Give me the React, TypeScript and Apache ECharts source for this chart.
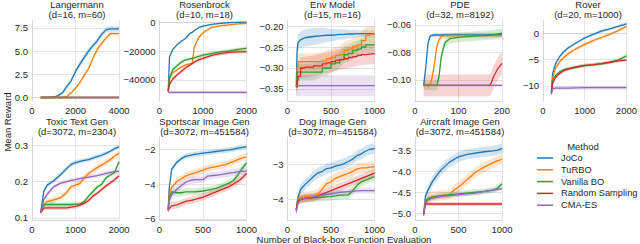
import React, { useEffect, useRef } from 'react';
import * as echarts from 'echarts';

const METHODS = ['JoCo', 'TuRBO', 'Vanilla BO', 'Random Sampling', 'CMA-ES'];
const COLORS = ['#1f77b4', '#ff7f0e', '#2ca02c', '#d62728', '#9467bd'];

// ---------- Langermann ----------
const langX = [400, 600, 1000, 1200, 1400, 1600, 1800, 2000, 2200, 2400, 2600, 2800, 3000, 3200, 3400, 3600, 3800, 4000];
const langJoCo = [0, 0, 0.05, 0.2, 0.5, 1.2, 1.8, 2.8, 3.6, 4.3, 5.0, 5.6, 6.1, 6.8, 7.3, 7.4, 7.4, 7.4];
const langTuRBO = [0, 0, 0, 0, 0, 0.1, 0.5, 1.0, 1.6, 2.4, 3.1, 4.2, 5.2, 5.8, 6.4, 6.9, 6.9, 6.9];
const langVBO = [0, 0, 0, 0, 0, 0, 0, 0, 0, 0, 0, 0, 0, 0, 0, 0, 0, 0];
const langRS = [0, 0, 0, 0, 0, 0, 0, 0, 0, 0, 0, 0, 0, 0, 0, 0, 0, 0];
const langCMA = [0, 0, 0, 0, 0, 0, 0, 0, 0, 0, 0, 0, 0, 0, 0, 0, 0, 0];
const langJoCoSd = [0, 0, 0.02, 0.1, 0.15, 0.25, 0.3, 0.3, 0.35, 0.35, 0.35, 0.3, 0.3, 0.3, 0.3, 0.3, 0.3, 0.3];
const langTuRBOSd = [0, 0, 0, 0, 0, 0.05, 0.1, 0.15, 0.2, 0.25, 0.25, 0.25, 0.25, 0.25, 0.2, 0.2, 0.2, 0.2];
const langYTicks = [0, 2.5, 5, 7.5];

// ---------- Rosenbrock ----------
const rosX = [200, 230, 300, 400, 500, 600, 700, 750, 800, 900, 1000, 1200, 1400, 1600, 1800, 2000];
const rosJoCo = [-48000, -24000, -19000, -15500, -13000, -11000, -7500, -6800, -5500, -3500, -2400, -1200, -500, 0, 200, 300];
const rosTuRBO = [-48000, -39000, -35000, -33000, -31000, -29500, -28800, -28400, -17000, -10500, -7000, -3200, -2200, -1500, -800, -400];
const rosVBO = [-48000, -39000, -33000, -30000, -27500, -26000, -25300, -25000, -24500, -23500, -22600, -21400, -20400, -19600, -18700, -17900];
const rosRS = [-48000, -43000, -39500, -36500, -34000, -31500, -29500, -28500, -27500, -26000, -24900, -22800, -21600, -20700, -20300, -20200];
const rosCMA = [-48600, -48600, -48600, -48600, -48600, -48600, -48600, -48600, -48600, -48600, -48600, -48600, -48600, -48600, -48600, -48600];
const rosSd = [600, 1000, 1200, 1300, 1200];
const rosYTicks = [-40000, -20000, 0];

// ---------- Env Model ----------
const envX = [100, 110, 120, 150, 200, 300, 400, 450, 500, 550, 600, 650, 700, 750, 800, 850, 900, 950, 1000];
const envJoCo = [-0.345, -0.26, -0.24, -0.233, -0.228, -0.225, -0.223, -0.222, -0.222, -0.221, -0.22, -0.22, -0.219, -0.219, -0.218, -0.218, -0.218, -0.218, -0.218];
const envTuRBO = [-0.345, -0.3, -0.285, -0.285, -0.285, -0.284, -0.283, -0.278, -0.275, -0.27, -0.268, -0.258, -0.255, -0.248, -0.245, -0.235, -0.222, -0.22, -0.22];
const envVBO = [-0.345, -0.31, -0.31, -0.31, -0.31, -0.31, -0.3, -0.3, -0.29, -0.288, -0.28, -0.268, -0.265, -0.258, -0.255, -0.25, -0.245, -0.245, -0.245];
const envRS = [-0.345, -0.33, -0.32, -0.3, -0.298, -0.295, -0.29, -0.288, -0.285, -0.282, -0.28, -0.278, -0.275, -0.273, -0.27, -0.268, -0.267, -0.266, -0.266];
const envCMA = [-0.342, -0.342, -0.342, -0.342, -0.342, -0.342, -0.342, -0.342, -0.342, -0.342, -0.342, -0.342, -0.342, -0.342, -0.342, -0.342, -0.342, -0.342, -0.342];
const envJoCoSd = [0.02, 0.02, 0.02, 0.02, 0.02, 0.02, 0.018, 0.016, 0.015, 0.014, 0.012, 0.012, 0.01, 0.01, 0.008, 0.008, 0.008, 0.008, 0.008];
const envSd = [0.02, 0.02, 0.025, 0.025];
const envYTicks = [-0.35, -0.3, -0.25, -0.2];

// ---------- PDE ----------
const pdeX = [20, 25, 30, 35, 40, 45, 50, 55, 60, 65, 70, 80, 100, 120, 140, 160, 170, 175, 180, 190, 200];
const pdeJoCo = [-0.104, -0.09, -0.073, -0.068, -0.0675, -0.0673, -0.0673, -0.0673, -0.0673, -0.0673, -0.0673, -0.0673, -0.0673, -0.0673, -0.0673, -0.0673, -0.0673, -0.0673, -0.0673, -0.0673, -0.0673];
const pdeTuRBO = [-0.104, -0.104, -0.104, -0.104, -0.097, -0.088, -0.076, -0.071, -0.0685, -0.068, -0.0677, -0.0677, -0.0677, -0.0677, -0.0677, -0.0677, -0.0677, -0.0677, -0.0677, -0.0677, -0.0677];
const pdeVBO = [-0.104, -0.104, -0.104, -0.104, -0.104, -0.104, -0.104, -0.098, -0.084, -0.077, -0.0725, -0.07, -0.069, -0.0685, -0.068, -0.0677, -0.0675, -0.0673, -0.067, -0.0665, -0.066];
const pdeRS = [-0.104, -0.104, -0.104, -0.104, -0.104, -0.104, -0.104, -0.104, -0.104, -0.104, -0.104, -0.104, -0.104, -0.104, -0.104, -0.104, -0.104, -0.1025, -0.098, -0.092, -0.088];
const pdeCMA = [-0.104, -0.104, -0.104, -0.104, -0.104, -0.104, -0.104, -0.104, -0.104, -0.104, -0.104, -0.104, -0.104, -0.104, -0.104, -0.104, -0.104, -0.104, -0.104, -0.104, -0.104];
const pdeSd = [0.0015, 0.002, 0.0035, 0.008, 0.001];
const pdeYTicks = [-0.1, -0.08, -0.06];

// ---------- Rover ----------
const rovX = [200, 230, 300, 400, 500, 600, 800, 1000, 1200, 1400, 1600, 1800, 2000];
const rovJoCo = [-11.3, -7.6, -5.8, -4.4, -3.5, -2.8, -1.8, -0.9, -0.2, 0.4, 0.85, 1.3, 1.8];
const rovTuRBO = [-11.3, -8.5, -6.6, -5.4, -4.6, -3.9, -2.9, -2.1, -1.4, -0.8, -0.2, 0.5, 1.3];
const rovVBO = [-11.3, -9.0, -8.0, -7.3, -6.9, -6.7, -6.4, -6.15, -6.0, -5.8, -5.5, -5.1, -4.3];
const rovRS = [-11.3, -9.5, -8.4, -7.6, -7.1, -6.8, -6.4, -6.1, -5.95, -5.75, -5.5, -5.25, -5.1];
const rovCMA = [-11.6, -10.5, -10.4, -10.4, -10.4, -10.4, -10.35, -10.3, -10.3, -10.3, -10.3, -10.3, -10.3];
const rovSd = [0.3, 0.3, 0.35, 0.3, 0.35];
const rovYTicks = [-10, -5, 0];

// ---------- Toxic Text Gen ----------
const toxX = [200, 270, 350, 500, 650, 800, 900, 1000, 1100, 1200, 1300, 1400, 1500, 1600, 1700, 1800, 1900, 2000];
const toxJoCo = [0.115, 0.173, 0.19, 0.202, 0.218, 0.236, 0.247, 0.252, 0.255, 0.258, 0.26, 0.264, 0.268, 0.272, 0.277, 0.283, 0.29, 0.295];
const toxTuRBO = [0.12, 0.136, 0.145, 0.15, 0.155, 0.17, 0.186, 0.19, 0.195, 0.21, 0.222, 0.23, 0.238, 0.245, 0.252, 0.26, 0.27, 0.277];
const toxVBO = [0.12, 0.136, 0.137, 0.137, 0.137, 0.137, 0.137, 0.138, 0.138, 0.145, 0.16, 0.172, 0.185, 0.192, 0.21, 0.218, 0.225, 0.254];
const toxRS = [0.115, 0.127, 0.128, 0.128, 0.128, 0.128, 0.13, 0.132, 0.135, 0.14, 0.148, 0.16, 0.168, 0.178, 0.188, 0.196, 0.205, 0.215];
const toxCMA = [0.115, 0.15, 0.165, 0.186, 0.195, 0.2, 0.203, 0.205, 0.208, 0.21, 0.212, 0.214, 0.216, 0.219, 0.222, 0.225, 0.227, 0.228];
const toxSd = [0.006, 0.008, 0.006, 0.006, 0.006];
const toxYTicks = [0.1, 0.2, 0.3];

// ---------- Sportscar Image Gen ----------
const spX = [100, 110, 140, 200, 250, 300, 350, 400, 500, 550, 650, 750, 800, 850, 900, 950, 1000];
const spJoCo = [-5.5, -4.3, -3.15, -2.75, -2.55, -2.42, -2.36, -2.3, -2.23, -2.2, -2.14, -2.08, -2.05, -2.0, -1.95, -1.9, -1.88];
const spTuRBO = [-5.5, -4.6, -4.2, -3.85, -3.7, -3.55, -3.45, -3.38, -3.2, -3.1, -3.0, -2.9, -2.8, -2.72, -2.6, -2.5, -2.45];
const spVBO = [-5.5, -4.8, -4.45, -4.5, -4.5, -4.45, -4.45, -4.45, -4.4, -4.35, -4.25, -4.05, -3.95, -3.8, -3.5, -3.1, -2.8];
const spRS = [-5.5, -5.4, -5.25, -5.2, -5.1, -5.0, -4.95, -4.9, -4.75, -4.65, -4.45, -4.25, -4.15, -4.0, -3.85, -3.65, -3.4];
const spCMA = [-5.5, -5.0, -4.6, -4.3, -4.1, -3.9, -3.8, -3.75, -3.75, -3.55, -3.5, -3.42, -3.38, -3.35, -3.3, -3.28, -3.25];
const spSd = [0.15, 0.2, 0.2, 0.2, 0.2];
const spYTicks = [-6, -4, -2];

// ---------- Dog Image Gen ----------
const dogX = [100, 120, 150, 200, 300, 350, 400, 450, 500, 550, 600, 650, 700, 750, 800, 850, 900, 950, 1000];
const dogJoCo = [-4.3, -3.95, -3.72, -3.58, -3.35, -3.25, -3.2, -3.12, -3.1, -3.05, -3.02, -2.98, -2.92, -2.85, -2.75, -2.7, -2.62, -2.57, -2.55];
const dogTuRBO = [-4.3, -4.0, -3.95, -3.93, -3.9, -3.85, -3.7, -3.55, -3.5, -3.4, -3.35, -3.3, -3.26, -3.2, -3.13, -3.1, -3.1, -3.08, -3.07];
const dogVBO = [-4.3, -4.05, -4.0, -3.97, -3.95, -3.95, -3.94, -3.93, -3.92, -3.9, -3.88, -3.88, -3.87, -3.75, -3.6, -3.5, -3.45, -3.4, -3.35];
const dogRS = [-4.3, -4.05, -4.0, -3.97, -3.95, -3.9, -3.85, -3.8, -3.75, -3.7, -3.65, -3.6, -3.55, -3.5, -3.45, -3.4, -3.35, -3.3, -3.25];
const dogCMA = [-4.35, -4.1, -4.0, -3.97, -3.93, -3.9, -3.88, -3.86, -3.84, -3.82, -3.8, -3.79, -3.78, -3.77, -3.76, -3.75, -3.75, -3.75, -3.75];
const dogSd = [0.15, 0.15, 0.12, 0.12, 0.08];
const dogYTicks = [-4, -3];

// ---------- Aircraft Image Gen ----------
const airX = [100, 120, 150, 200, 250, 300, 400, 450, 500, 600, 700, 800, 900, 950, 1000];
const airJoCo = [-5.0, -4.6, -4.45, -4.25, -4.1, -3.97, -3.78, -3.72, -3.66, -3.6, -3.57, -3.54, -3.52, -3.5, -3.46];
const airTuRBO = [-5.0, -4.72, -4.65, -4.6, -4.6, -4.58, -4.55, -4.45, -4.38, -4.2, -4.02, -3.9, -3.8, -3.75, -3.72];
const airVBO = [-5.0, -4.75, -4.65, -4.62, -4.6, -4.58, -4.56, -4.55, -4.54, -4.52, -4.5, -4.48, -4.45, -4.4, -4.3];
const airRS = [-5.05, -4.78, -4.78, -4.78, -4.78, -4.78, -4.78, -4.78, -4.78, -4.78, -4.78, -4.78, -4.78, -4.78, -4.78];
const airCMA = [-5.0, -4.78, -4.68, -4.64, -4.62, -4.6, -4.58, -4.57, -4.56, -4.54, -4.52, -4.48, -4.45, -4.43, -4.42];
const airSd = [0.12, 0.12, 0.07, 0.05, 0.05];
const airYTicks = [-5, -4.5, -4, -3.5];

const PANELS: any[] = [
  { title: 'Langermann', sub: '(d=16, m=60)', x: langX, mean: [langJoCo, langTuRBO, langVBO, langRS, langCMA], sd: [langJoCoSd, langTuRBOSd, 0, 0, 0], xMax: 4000, yMin: -0.38, yMax: 8.36, ticks: langYTicks, dec: 1 },
  { title: 'Rosenbrock', sub: '(d=10, m=18)', x: rosX, mean: [rosJoCo, rosTuRBO, rosVBO, rosRS, rosCMA], sd: rosSd, xMax: 2000, yMin: -54660, yMax: 1880, ticks: rosYTicks, dec: 0 },
  { title: 'Env Model', sub: '(d=15, m=16)', x: envX, mean: [envJoCo, envTuRBO, envVBO, envRS, envCMA], sd: [envJoCoSd, ...envSd], xMax: 1000, yMin: -0.3786, yMax: -0.1857, ticks: envYTicks, dec: 2, step: true },
  { title: 'PDE', sub: '(d=32, m=8192)', x: pdeX, mean: [pdeJoCo, pdeTuRBO, pdeVBO, pdeRS, pdeCMA], sd: pdeSd, xMax: 200, yMin: -0.1153, yMax: -0.0564, ticks: pdeYTicks, dec: 2 },
  { title: 'Rover', sub: '(d=20, m=1000)', x: rovX, mean: [rovJoCo, rovTuRBO, rovVBO, rovRS, rovCMA], sd: rovSd, xMax: 2000, yMin: -12.85, yMax: 2.52, ticks: rovYTicks, dec: 0 },
  { title: 'Toxic Text Gen', sub: '(d=3072, m=2304)', x: toxX, mean: [toxJoCo, toxTuRBO, toxVBO, toxRS, toxCMA], sd: toxSd, xMax: 2000, yMin: 0.0945, yMax: 0.322, ticks: toxYTicks, dec: 1 },
  { title: 'Sportscar Image Gen', sub: '(d=3072, m=451584)', x: spX, mean: [spJoCo, spTuRBO, spVBO, spRS, spCMA], sd: spSd, xMax: 1000, yMin: -6.06, yMax: -1.31, ticks: spYTicks, dec: 0 },
  { title: 'Dog Image Gen', sub: '(d=3072, m=451584)', x: dogX, mean: [dogJoCo, dogTuRBO, dogVBO, dogRS, dogCMA], sd: dogSd, xMax: 1000, yMin: -4.59, yMax: -2.22, ticks: dogYTicks, dec: 0 },
  { title: 'Aircraft Image Gen', sub: '(d=3072, m=451584)', x: airX, mean: [airJoCo, airTuRBO, airVBO, airRS, airCMA], sd: airSd, xMax: 1000, yMin: -5.16, yMax: -3.19, ticks: airYTicks, dec: 1 },
];

const FONT = '"Liberation Sans", Arial, Helvetica, sans-serif';
const TXT = '#262626';
const GRIDC = '#e3e3e3';
const COL_LEFT = [32, 159.5, 287.5, 415, 543];
const ROW_TOP = [20, 137];
const ROW_H = [81, 83];
const PW = 87;

function fmt(v: number, dec: number) {
  const s = Math.abs(v).toFixed(dec);
  return (v < 0 ? '\u2212' : '') + s;
}

function buildOption() {
  const grid: any[] = [];
  const xAxis: any[] = [];
  const yAxis: any[] = [];
  const series: any[] = [];
  const graphic: any[] = [];

  PANELS.forEach((p, i) => {
    const row = i < 5 ? 0 : 1;
    const col = i < 5 ? i : i - 5;
    const left = COL_LEFT[col];
    const top = ROW_TOP[row];
    grid.push({ left, top, width: PW, height: ROW_H[row], containLabel: false });
    xAxis.push({
      gridIndex: i, type: 'value', min: 0, max: p.xMax, interval: p.xMax / 2,
      axisLine: { show: true, lineStyle: { color: '#d6d6d6', width: 1 } },
      axisTick: { show: false },
      splitLine: { show: true, lineStyle: { color: GRIDC, width: 1 } },
      axisLabel: { color: TXT, fontSize: 9.5, fontFamily: FONT, margin: 4, showMinLabel: true, showMaxLabel: true, hideOverlap: false, formatter: (v: number) => String(Math.round(v)) },
    });
    yAxis.push({
      gridIndex: i, type: 'value', min: p.yMin, max: p.yMax,
      axisLine: { show: true, lineStyle: { color: '#d6d6d6', width: 1 } },
      axisTick: { show: false, customValues: p.ticks },
      splitLine: { show: true, lineStyle: { color: GRIDC, width: 1 } },
      axisLabel: { customValues: p.ticks, color: TXT, fontSize: 9.5, fontFamily: FONT, margin: 4, formatter: (v: number) => fmt(v, p.dec) },
    });

    const xs: number[] = p.x;
    p.mean.forEach((ys: number[], m: number) => {
      const sdv = p.sd[m];
      const sdArr: number[] = Array.isArray(sdv) ? sdv : xs.map(() => sdv);
      const hasBand = sdArr.some((s) => s > 0);
      if (hasBand) {
        const lo = ys.map((y, k) => y - sdArr[k]);
        const hi = ys.map((y, k) => y + sdArr[k]);
        series.push({
          type: 'custom', xAxisIndex: i, yAxisIndex: i, silent: true, clip: true, z: 1,
          data: xs.map((x, k) => [x, lo[k], hi[k]]),
          encode: { x: 0, y: [1, 2] },
          renderItem: (params: any, api: any) => {
            if (params.dataIndex !== 0) return null;
            const pts: number[][] = [];
            for (let k = 0; k < xs.length; k++) pts.push(api.coord([xs[k], hi[k]]));
            for (let k = xs.length - 1; k >= 0; k--) pts.push(api.coord([xs[k], lo[k]]));
            return { type: 'polygon', shape: { points: pts }, style: { fill: COLORS[m], opacity: 0.2 } };
          },
        });
      }
      series.push({
        type: 'line', name: METHODS[m], xAxisIndex: i, yAxisIndex: i, z: 3 + m,
        symbol: 'none', showSymbol: false, silent: true,
        step: p.step && m > 0 ? 'end' : false,
        lineStyle: { color: COLORS[m], width: 1.3 },
        itemStyle: { color: COLORS[m] },
        data: xs.map((x, k) => [x, ys[k]]),
      });
    });

    const cx = left + PW / 2 + 1.5;
    const textStyle = { fill: TXT, fontSize: 9.5, fontFamily: FONT, align: 'center', verticalAlign: 'middle' };
    graphic.push({ type: 'text', x: cx, y: top - 15.8, style: { ...textStyle, text: p.title } });
    graphic.push({ type: 'text', x: cx, y: top - 5.2, style: { ...textStyle, text: p.sub } });
  });

  // legend (drawn manually)
  graphic.push({ type: 'text', x: 583, y: 146, style: { text: 'Method', fill: TXT, fontSize: 9.5, fontFamily: FONT, align: 'center', verticalAlign: 'middle' } });
  const legY = [158, 169.8, 181.6, 193.4, 205.2];
  METHODS.forEach((name, m) => {
    graphic.push({ type: 'line', shape: { x1: 537, y1: legY[m], x2: 553, y2: legY[m] }, style: { stroke: COLORS[m], lineWidth: 1.5 } });
    graphic.push({ type: 'text', x: 561, y: legY[m], style: { text: name, fill: TXT, fontSize: 9.3, fontFamily: FONT, align: 'left', verticalAlign: 'middle' } });
  });

  graphic.push({ type: 'text', x: 7, y: 122, rotation: Math.PI / 2, style: { text: 'Mean Reward', fill: TXT, fontSize: 9.5, fontFamily: FONT, align: 'center', verticalAlign: 'middle' } });
  graphic.push({ type: 'text', x: 344, y: 239, style: { text: 'Number of Black-box Function Evaluation', fill: TXT, fontSize: 9.5, fontFamily: FONT, align: 'center', verticalAlign: 'middle' } });

  return {
    animation: false,
    backgroundColor: '#ffffff',
    grid, xAxis, yAxis, series, graphic,
  };
}

export default function App() {
  const ref = useRef<HTMLDivElement>(null);
  useEffect(() => {
    if (!ref.current) return;
    const chart = echarts.init(ref.current, undefined, { renderer: 'svg' });
    chart.setOption(buildOption() as any);
    return () => chart.dispose();
  }, []);
  return <div ref={ref} style={{ position: 'fixed', left: 0, top: 0, width: 640, height: 244 }} />;
}
